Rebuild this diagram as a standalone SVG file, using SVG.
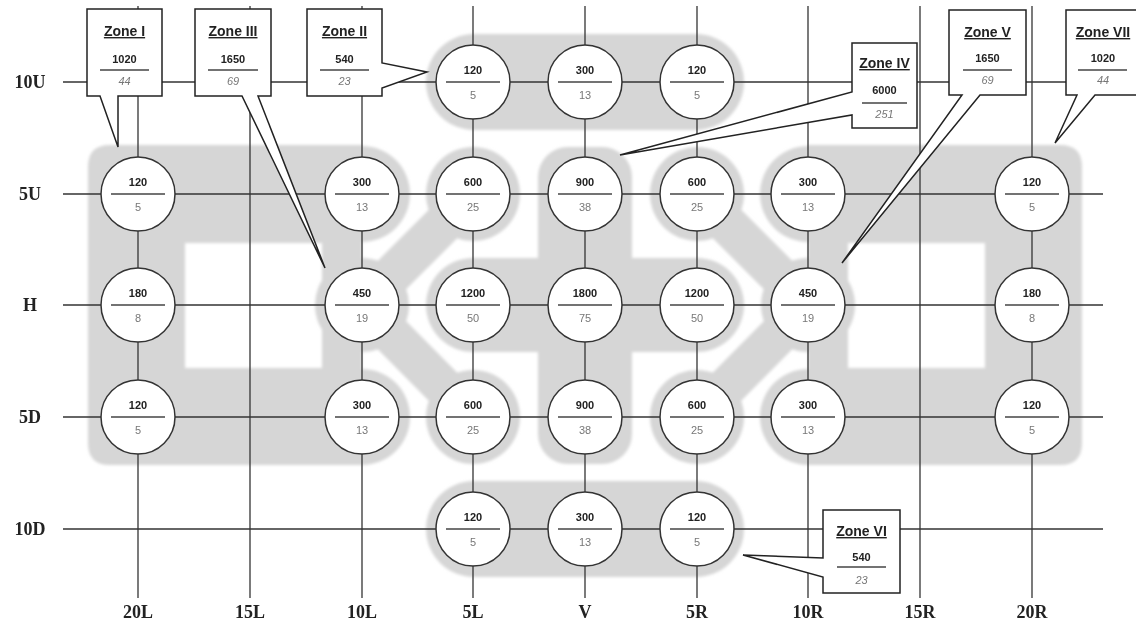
<svg xmlns="http://www.w3.org/2000/svg" width="1136" height="630" viewBox="0 0 1136 630">
<style>
.zone{fill:#d6d6d6}
.grid line{stroke:#333;stroke-width:1.3}
.node circle{fill:#fff;stroke:#333;stroke-width:1.5}
.node line{stroke:#444;stroke-width:1.4}
.t{font-family:"Liberation Sans",Arial,sans-serif;font-size:11px;font-weight:bold;fill:#222;text-anchor:middle}
.b{font-family:"Liberation Sans",Arial,sans-serif;font-size:11px;fill:#777;text-anchor:middle}
.ax{font-family:"Liberation Serif","Times New Roman",serif;font-size:18px;font-weight:bold;fill:#222;text-anchor:middle}
.co path{fill:#fff;stroke:#222;stroke-width:1.5}
.co line{stroke:#444;stroke-width:1.4}
.zt{font-family:"Liberation Sans",Arial,sans-serif;font-size:14px;font-weight:bold;fill:#222;text-anchor:middle;text-decoration:underline}
.zn{font-family:"Liberation Sans",Arial,sans-serif;font-size:11px;font-weight:bold;fill:#222;text-anchor:middle}
.zb{font-family:"Liberation Sans",Arial,sans-serif;font-size:11px;font-style:italic;fill:#777;text-anchor:middle}
</style>
<defs>
<filter id="soft" x="-5%" y="-5%" width="110%" height="110%"><feGaussianBlur stdDeviation="1.5"/></filter>
<g id="leftZones">
<path class="zone" fill-rule="evenodd" d="M110,145 H362 V465 H110 Q88,465 88,443 V167 Q88,145 110,145 Z M185,243 H322 V368 H185 Z"/>
<circle class="zone" cx="362" cy="194" r="48"/>
<circle class="zone" cx="362" cy="417" r="48"/>
<circle class="zone" cx="362" cy="305" r="47"/>
<circle class="zone" cx="473" cy="194" r="47"/>
<circle class="zone" cx="473" cy="417" r="47"/>
<line x1="362" y1="305" x2="473" y2="194" stroke="#d6d6d6" stroke-width="40" stroke-linecap="round"/>
<line x1="362" y1="305" x2="473" y2="417" stroke="#d6d6d6" stroke-width="40" stroke-linecap="round"/>
</g>
</defs>
<rect width="1136" height="630" fill="#fff"/>
<g id="zones" filter="url(#soft)">
<rect class="zone" x="426" y="34" width="318" height="96" rx="48"/>
<rect class="zone" x="426" y="481" width="318" height="96" rx="48"/>
<use href="#leftZones"/>
<use href="#leftZones" transform="translate(1170,0) scale(-1,1)"/>
<rect class="zone" x="538" y="147" width="94" height="317" rx="30"/>
<rect class="zone" x="473" y="258" width="224" height="94"/>
<circle class="zone" cx="473" cy="305" r="47"/>
<circle class="zone" cx="697" cy="305" r="47"/>
<circle class="zone" cx="585" cy="194" r="47"/>
<circle class="zone" cx="585" cy="305" r="47"/>
<circle class="zone" cx="585" cy="417" r="47"/>
</g>
<g id="connectors" class="grid">
<line x1="138" y1="6" x2="138" y2="598"/>
<line x1="250" y1="6" x2="250" y2="598"/>
<line x1="362" y1="6" x2="362" y2="598"/>
<line x1="473" y1="6" x2="473" y2="598"/>
<line x1="585" y1="6" x2="585" y2="598"/>
<line x1="697" y1="6" x2="697" y2="598"/>
<line x1="808" y1="6" x2="808" y2="598"/>
<line x1="920" y1="6" x2="920" y2="598"/>
<line x1="1032" y1="6" x2="1032" y2="598"/>
<line x1="63" y1="82" x2="1103" y2="82"/>
<line x1="63" y1="194" x2="1103" y2="194"/>
<line x1="63" y1="305" x2="1103" y2="305"/>
<line x1="63" y1="417" x2="1103" y2="417"/>
<line x1="63" y1="529" x2="1103" y2="529"/>
</g>
<g id="nodes">
<g id="n-10U-5L" class="node"><circle cx="473" cy="82" r="37"/><line x1="446" y1="82" x2="500" y2="82"/><text class="t" x="473" y="74">120</text><text class="b" x="473" y="99">5</text></g>
<g id="n-10U-V" class="node"><circle cx="585" cy="82" r="37"/><line x1="558" y1="82" x2="612" y2="82"/><text class="t" x="585" y="74">300</text><text class="b" x="585" y="99">13</text></g>
<g id="n-10U-5R" class="node"><circle cx="697" cy="82" r="37"/><line x1="670" y1="82" x2="724" y2="82"/><text class="t" x="697" y="74">120</text><text class="b" x="697" y="99">5</text></g>

<g id="n-5U-20L" class="node"><circle cx="138" cy="194" r="37"/><line x1="111" y1="194" x2="165" y2="194"/><text class="t" x="138" y="186">120</text><text class="b" x="138" y="211">5</text></g>
<g id="n-5U-10L" class="node"><circle cx="362" cy="194" r="37"/><line x1="335" y1="194" x2="389" y2="194"/><text class="t" x="362" y="186">300</text><text class="b" x="362" y="211">13</text></g>
<g id="n-5U-5L" class="node"><circle cx="473" cy="194" r="37"/><line x1="446" y1="194" x2="500" y2="194"/><text class="t" x="473" y="186">600</text><text class="b" x="473" y="211">25</text></g>
<g id="n-5U-V" class="node"><circle cx="585" cy="194" r="37"/><line x1="558" y1="194" x2="612" y2="194"/><text class="t" x="585" y="186">900</text><text class="b" x="585" y="211">38</text></g>
<g id="n-5U-5R" class="node"><circle cx="697" cy="194" r="37"/><line x1="670" y1="194" x2="724" y2="194"/><text class="t" x="697" y="186">600</text><text class="b" x="697" y="211">25</text></g>
<g id="n-5U-10R" class="node"><circle cx="808" cy="194" r="37"/><line x1="781" y1="194" x2="835" y2="194"/><text class="t" x="808" y="186">300</text><text class="b" x="808" y="211">13</text></g>
<g id="n-5U-20R" class="node"><circle cx="1032" cy="194" r="37"/><line x1="1005" y1="194" x2="1059" y2="194"/><text class="t" x="1032" y="186">120</text><text class="b" x="1032" y="211">5</text></g>

<g id="n-H-20L" class="node"><circle cx="138" cy="305" r="37"/><line x1="111" y1="305" x2="165" y2="305"/><text class="t" x="138" y="297">180</text><text class="b" x="138" y="322">8</text></g>
<g id="n-H-10L" class="node"><circle cx="362" cy="305" r="37"/><line x1="335" y1="305" x2="389" y2="305"/><text class="t" x="362" y="297">450</text><text class="b" x="362" y="322">19</text></g>
<g id="n-H-5L" class="node"><circle cx="473" cy="305" r="37"/><line x1="446" y1="305" x2="500" y2="305"/><text class="t" x="473" y="297">1200</text><text class="b" x="473" y="322">50</text></g>
<g id="n-H-V" class="node"><circle cx="585" cy="305" r="37"/><line x1="558" y1="305" x2="612" y2="305"/><text class="t" x="585" y="297">1800</text><text class="b" x="585" y="322">75</text></g>
<g id="n-H-5R" class="node"><circle cx="697" cy="305" r="37"/><line x1="670" y1="305" x2="724" y2="305"/><text class="t" x="697" y="297">1200</text><text class="b" x="697" y="322">50</text></g>
<g id="n-H-10R" class="node"><circle cx="808" cy="305" r="37"/><line x1="781" y1="305" x2="835" y2="305"/><text class="t" x="808" y="297">450</text><text class="b" x="808" y="322">19</text></g>
<g id="n-H-20R" class="node"><circle cx="1032" cy="305" r="37"/><line x1="1005" y1="305" x2="1059" y2="305"/><text class="t" x="1032" y="297">180</text><text class="b" x="1032" y="322">8</text></g>

<g id="n-5D-20L" class="node"><circle cx="138" cy="417" r="37"/><line x1="111" y1="417" x2="165" y2="417"/><text class="t" x="138" y="409">120</text><text class="b" x="138" y="434">5</text></g>
<g id="n-5D-10L" class="node"><circle cx="362" cy="417" r="37"/><line x1="335" y1="417" x2="389" y2="417"/><text class="t" x="362" y="409">300</text><text class="b" x="362" y="434">13</text></g>
<g id="n-5D-5L" class="node"><circle cx="473" cy="417" r="37"/><line x1="446" y1="417" x2="500" y2="417"/><text class="t" x="473" y="409">600</text><text class="b" x="473" y="434">25</text></g>
<g id="n-5D-V" class="node"><circle cx="585" cy="417" r="37"/><line x1="558" y1="417" x2="612" y2="417"/><text class="t" x="585" y="409">900</text><text class="b" x="585" y="434">38</text></g>
<g id="n-5D-5R" class="node"><circle cx="697" cy="417" r="37"/><line x1="670" y1="417" x2="724" y2="417"/><text class="t" x="697" y="409">600</text><text class="b" x="697" y="434">25</text></g>
<g id="n-5D-10R" class="node"><circle cx="808" cy="417" r="37"/><line x1="781" y1="417" x2="835" y2="417"/><text class="t" x="808" y="409">300</text><text class="b" x="808" y="434">13</text></g>
<g id="n-5D-20R" class="node"><circle cx="1032" cy="417" r="37"/><line x1="1005" y1="417" x2="1059" y2="417"/><text class="t" x="1032" y="409">120</text><text class="b" x="1032" y="434">5</text></g>

<g id="n-10D-5L" class="node"><circle cx="473" cy="529" r="37"/><line x1="446" y1="529" x2="500" y2="529"/><text class="t" x="473" y="521">120</text><text class="b" x="473" y="546">5</text></g>
<g id="n-10D-V" class="node"><circle cx="585" cy="529" r="37"/><line x1="558" y1="529" x2="612" y2="529"/><text class="t" x="585" y="521">300</text><text class="b" x="585" y="546">13</text></g>
<g id="n-10D-5R" class="node"><circle cx="697" cy="529" r="37"/><line x1="670" y1="529" x2="724" y2="529"/><text class="t" x="697" y="521">120</text><text class="b" x="697" y="546">5</text></g>
</g>
<g id="callouts">
<g id="zone-I" class="co"><path d="M87,9 H162 V96 H118 L118,147 L100,96 H87 Z"/><text class="zt" x="124.5" y="36">Zone I</text><text class="zn" x="124.5" y="63">1020</text><line x1="100" y1="70" x2="149" y2="70"/><text class="zb" x="124.5" y="85">44</text></g>
<g id="zone-III" class="co"><path d="M195,9 H271 V96 H258 L325,268 L242,96 H195 Z"/><text class="zt" x="233" y="36">Zone III</text><text class="zn" x="233" y="63">1650</text><line x1="208" y1="70" x2="258" y2="70"/><text class="zb" x="233" y="85">69</text></g>
<g id="zone-II" class="co"><path d="M307,9 H382 V63 L427,72 L382,88 V96 H307 Z"/><text class="zt" x="344.5" y="36">Zone II</text><text class="zn" x="344.5" y="63">540</text><line x1="320" y1="70" x2="369" y2="70"/><text class="zb" x="344.5" y="85">23</text></g>
<g id="zone-IV" class="co"><path d="M852,43 H917 V128 H852 V115 L620,155 L852,92 Z"/><text class="zt" x="884.5" y="68">Zone IV</text><text class="zn" x="884.5" y="94">6000</text><line x1="862" y1="103" x2="907" y2="103"/><text class="zb" x="884.5" y="118">251</text></g>
<g id="zone-V" class="co"><path d="M949,10 H1026 V95 H980 L842,263 L962,95 H949 Z"/><text class="zt" x="987.5" y="37">Zone V</text><text class="zn" x="987.5" y="62">1650</text><line x1="963" y1="70" x2="1012" y2="70"/><text class="zb" x="987.5" y="84">69</text></g>
<g id="zone-VII" class="co"><path d="M1066,10 H1142 V95 H1095 L1055,143 L1077,95 H1066 Z"/><text class="zt" x="1103" y="37">Zone VII</text><text class="zn" x="1103" y="62">1020</text><line x1="1078" y1="70" x2="1127" y2="70"/><text class="zb" x="1103" y="84">44</text></g>
<g id="zone-VI" class="co"><path d="M823,510 H900 V593 H823 V577 L743,555 L823,558 Z"/><text class="zt" x="861.5" y="536">Zone VI</text><text class="zn" x="861.5" y="561">540</text><line x1="837" y1="567" x2="886" y2="567"/><text class="zb" x="861.5" y="584">23</text></g>
</g>
<g id="axis-labels">
<text class="ax" x="30" y="88">10U</text>
<text class="ax" x="30" y="200">5U</text>
<text class="ax" x="30" y="311">H</text>
<text class="ax" x="30" y="423">5D</text>
<text class="ax" x="30" y="535">10D</text>
<text class="ax" x="138" y="618">20L</text>
<text class="ax" x="250" y="618">15L</text>
<text class="ax" x="362" y="618">10L</text>
<text class="ax" x="473" y="618">5L</text>
<text class="ax" x="585" y="618">V</text>
<text class="ax" x="697" y="618">5R</text>
<text class="ax" x="808" y="618">10R</text>
<text class="ax" x="920" y="618">15R</text>
<text class="ax" x="1032" y="618">20R</text>
</g>
</svg>
